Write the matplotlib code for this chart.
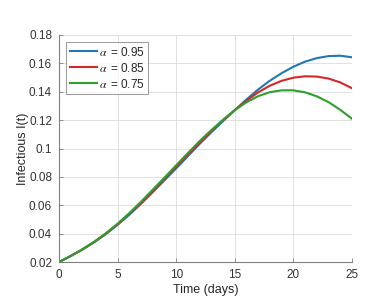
import matplotlib
matplotlib.use("Agg")
import matplotlib.pyplot as plt

t = list(range(0, 26))
i_095 = [0.0200, 0.0242, 0.0288, 0.0339, 0.0397, 0.0462, 0.0533, 0.0610, 0.0692, 0.0776,
         0.0860, 0.0946, 0.1032, 0.1114, 0.1193, 0.1270, 0.1346, 0.1416, 0.1478, 0.1531,
         0.1576, 0.1612, 0.1637, 0.1651, 0.1654, 0.1643]
i_085 = [0.0200, 0.0243, 0.0289, 0.0341, 0.0400, 0.0466, 0.0539, 0.0617, 0.0700, 0.0785,
         0.0870, 0.0957, 0.1042, 0.1123, 0.1199, 0.1270, 0.1337, 0.1396, 0.1443, 0.1477,
         0.1499, 0.1509, 0.1507, 0.1493, 0.1466, 0.1425]
i_075 = [0.0200, 0.0243, 0.0290, 0.0343, 0.0403, 0.0470, 0.0545, 0.0625, 0.0710, 0.0795,
         0.0882, 0.0968, 0.1052, 0.1130, 0.1203, 0.1270, 0.1326, 0.1369, 0.1397, 0.1410,
         0.1410, 0.1396, 0.1368, 0.1327, 0.1273, 0.1210]
labels = [r"$\alpha\,$ = 0.95", r"$\alpha\,$ = 0.85", r"$\alpha\,$ = 0.75"]
colors = ["#1f77b4", "#d62728", "#2ca02c"]
xticks = [0, 5, 10, 15, 20, 25]
yticks = [0.02, 0.04, 0.06, 0.08, 0.1, 0.12, 0.14, 0.16, 0.18]
yticklabels = ["0.02", "0.04", "0.06", "0.08", "0.1", "0.12", "0.14", "0.16", "0.18"]

plt.rcParams["font.family"] = ["Liberation Sans", "DejaVu Sans"]
plt.rcParams["mathtext.fontset"] = "stix"

fig = plt.figure(figsize=(3.91, 3.03), dpi=100)
ax = fig.add_axes([0.151, 0.1353, 0.749, 0.7492])

for ys, lab, c in zip([i_095, i_085, i_075], labels, colors):
    ax.plot(t, ys, color=c, lw=1.5, label=lab, solid_joinstyle="round")

ax.set_xlim(0, 25)
ax.set_ylim(0.02, 0.18)
ax.set_xticks(xticks)
ax.set_yticks(yticks)
ax.set_yticklabels(yticklabels)
ax.grid(True, color="#dcdcdc", lw=0.6)
ax.set_axisbelow(True)
for s in ["top", "right"]:
    ax.spines[s].set_visible(False)
for s in ["left", "bottom"]:
    ax.spines[s].set_color("#808080")
    ax.spines[s].set_linewidth(0.8)
ax.tick_params(direction="in", length=3, width=0.6, colors="#808080",
               labelcolor="#333333", labelsize=8.5, pad=5)
ax.set_xlabel("Time (days)", fontsize=9, color="#262626", labelpad=2)
ax.set_ylabel("Infectious I(t)", fontsize=9, color="#262626", labelpad=0)

leg = ax.legend(loc="upper left", fontsize=8.5, frameon=True, fancybox=False,
                handlelength=2.3, handletextpad=0.2, borderpad=0.3,
                labelspacing=0.25, borderaxespad=0.6)
leg.get_frame().set_edgecolor("#808080")
leg.get_frame().set_linewidth(0.7)
for txt in leg.get_texts():
    txt.set_color("#262626")

fig.savefig("out.png", dpi=100)
